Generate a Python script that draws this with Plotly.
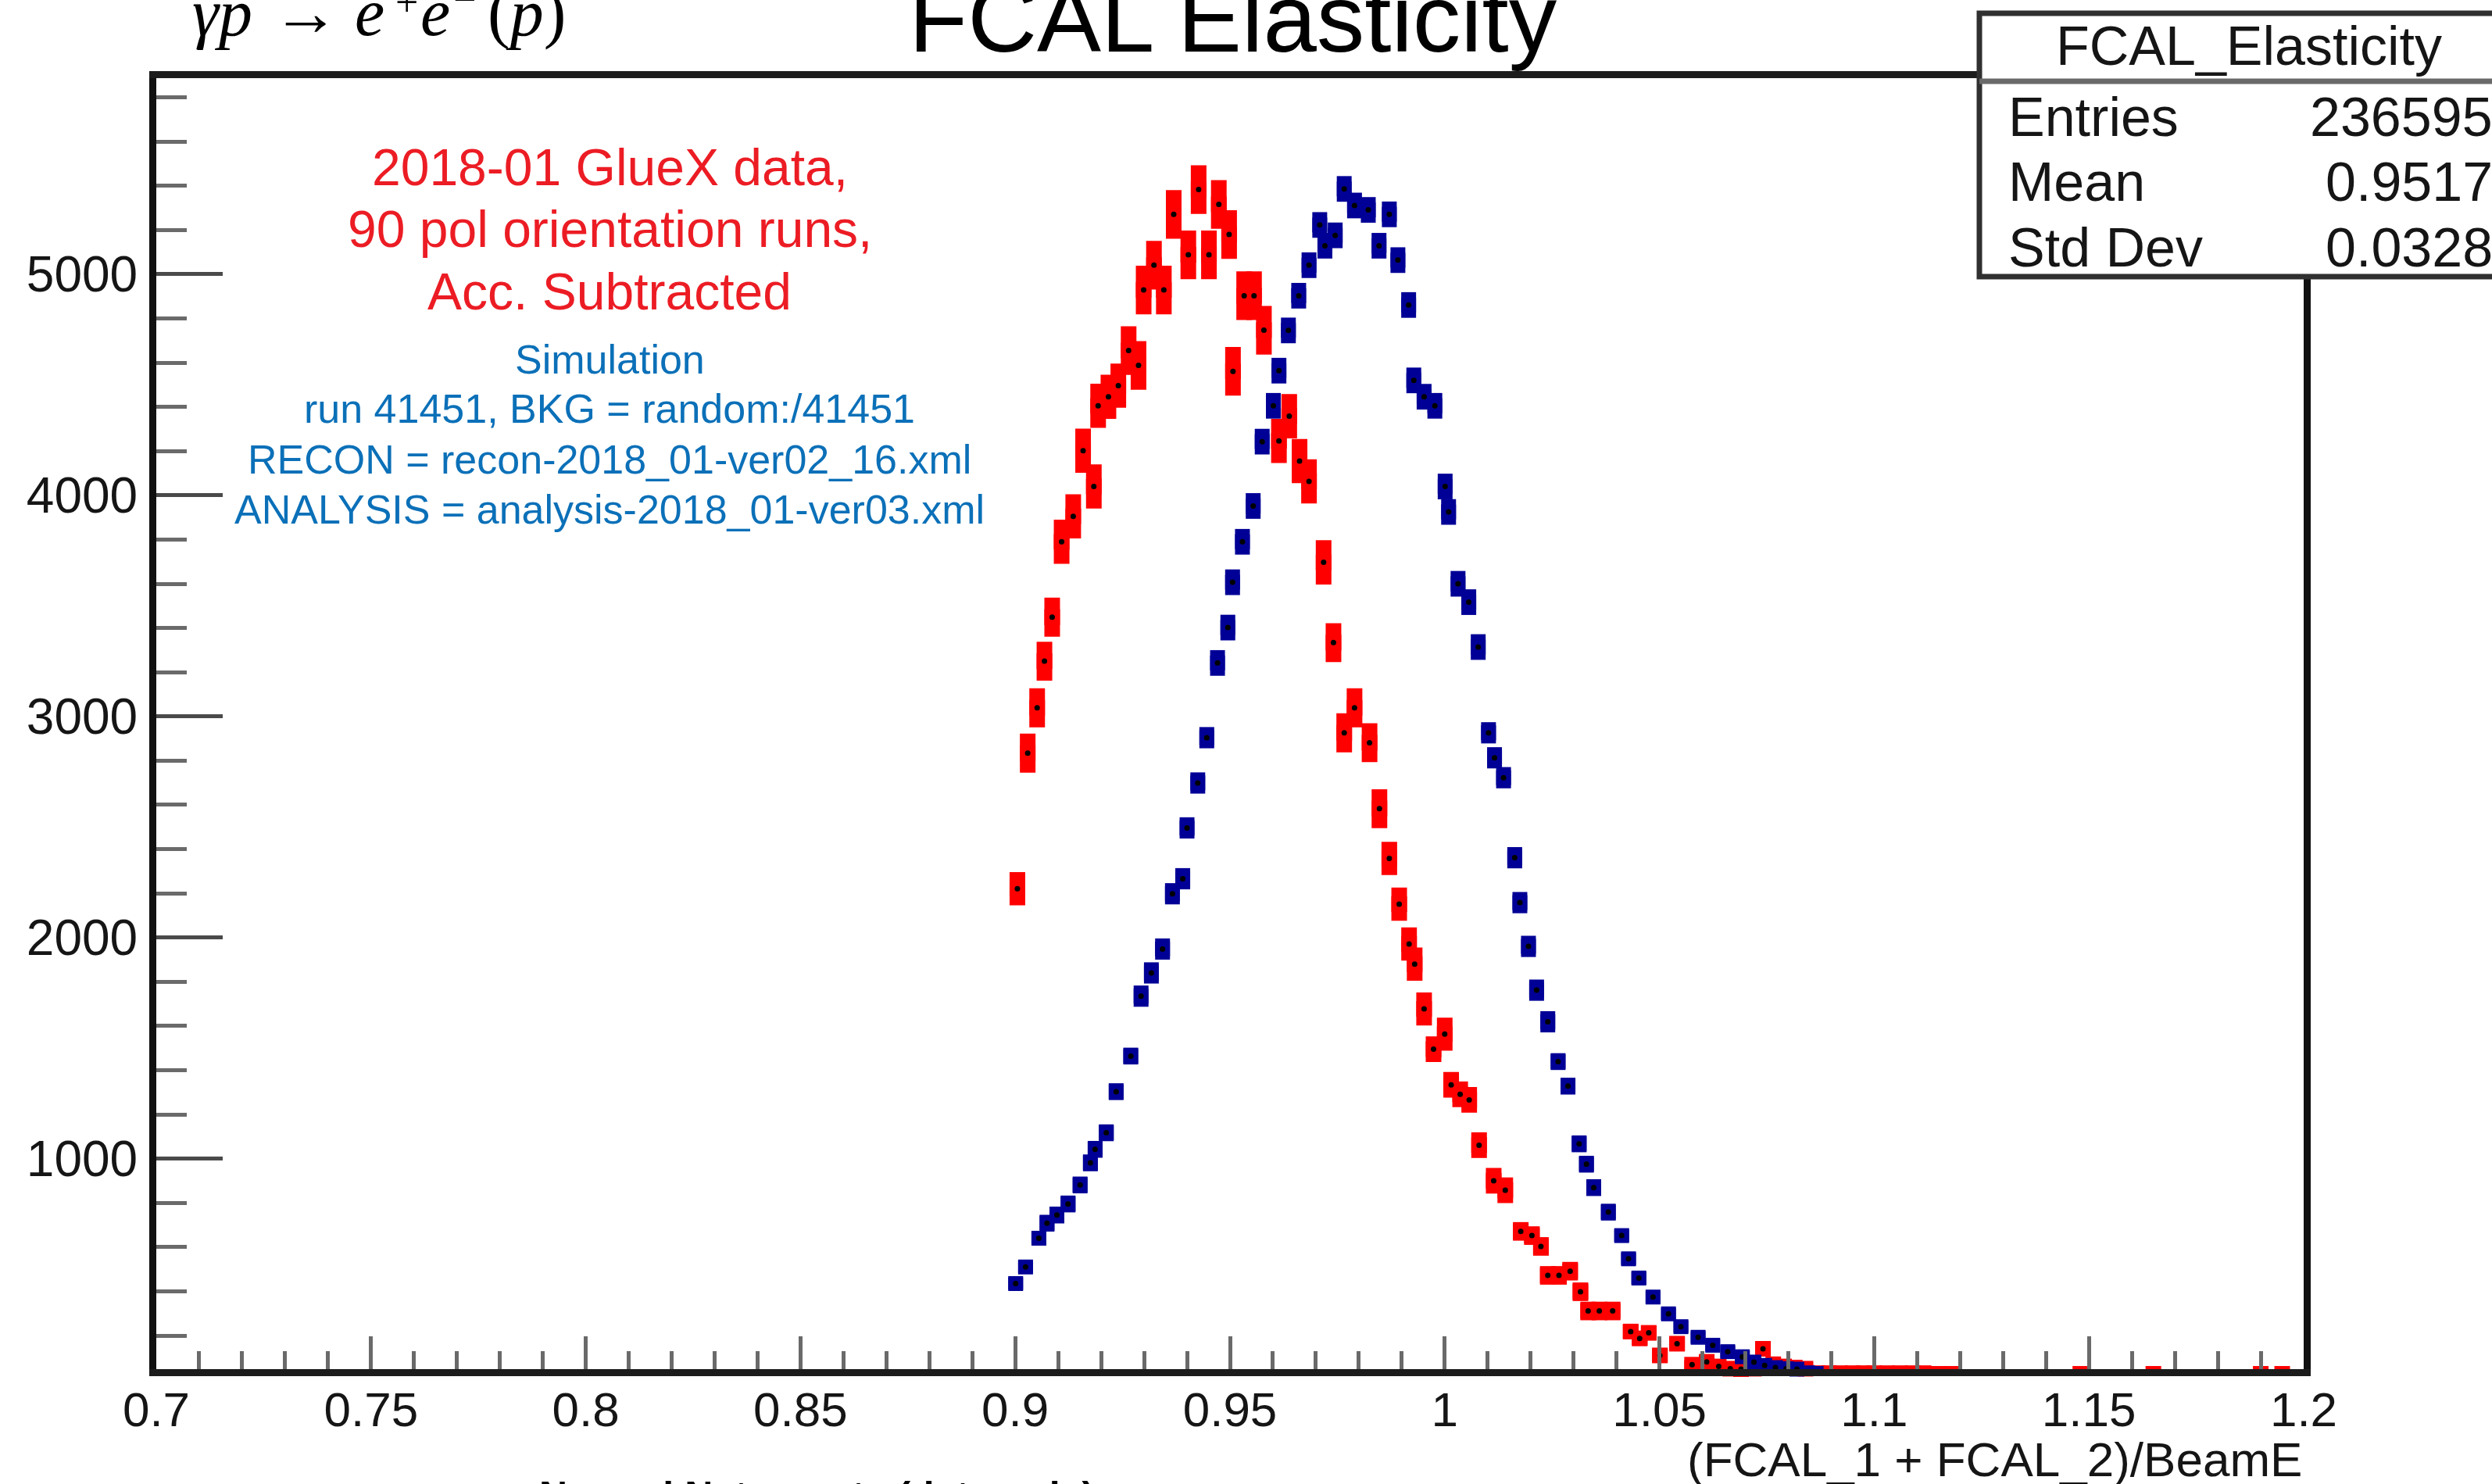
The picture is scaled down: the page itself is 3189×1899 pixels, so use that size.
import plotly.graph_objects as go

# ---------------- data ----------------
x_tick_vals = [0.7, 0.75, 0.8, 0.85, 0.9, 0.95, 1.0, 1.05, 1.1, 1.15, 1.2]
x_tick_text = ["0.7", "0.75", "0.8", "0.85", "0.9", "0.95", "1", "1.05", "1.1", "1.15", "1.2"]
y_tick_vals = [1000, 2000, 3000, 4000, 5000]
y_tick_text = ["1000", "2000", "3000", "4000", "5000"]

# 2018-01 data (red)
data_x = [0.9005, 0.9029, 0.9051, 0.9068, 0.9086, 0.9108, 0.9135, 0.9158, 0.9183, 0.9193,
          0.9217, 0.9240, 0.9264, 0.9287, 0.9299, 0.9323, 0.9346, 0.9369, 0.9403, 0.9427,
          0.9451, 0.9474, 0.9498, 0.9507, 0.9533, 0.9556, 0.9579, 0.9614, 0.9638, 0.9662,
          0.9684, 0.9718, 0.9741, 0.9766, 0.9790, 0.9825, 0.9848, 0.9871, 0.9894, 0.9917,
          0.9930, 0.9952, 0.9974, 1.0000, 1.0015, 1.0036, 1.0057, 1.0080, 1.0114, 1.0141,
          1.0177, 1.0203, 1.0224, 1.0240, 1.0266, 1.0292, 1.0316, 1.0334, 1.0360, 1.0391,
          1.0433, 1.0454, 1.0475, 1.0501, 1.0541, 1.0576, 1.0610, 1.0638, 1.0665, 1.0690,
          1.0720, 1.0741, 1.0765, 1.0790, 1.0815, 1.0840, 1.0870, 1.0895, 1.0920, 1.0950,
          1.0975, 1.1000, 1.1030, 1.1060, 1.1090, 1.1115, 1.1150, 1.1180, 1.1480, 1.1650,
          1.1900, 1.1950]
data_y = [2221, 2834, 3039, 3250, 3449, 3790, 3905, 4202, 4040, 4405,
          4446, 4496, 4655, 4588, 4929, 5041, 4929, 5271, 5088, 5383,
          5088, 5316, 5180, 4561, 4903, 4903, 4747, 4246, 4358, 4155,
          4063, 3697, 3334, 2926, 3039, 2881, 2583, 2358, 2151, 1971,
          1880, 1677, 1495, 1563, 1334, 1291, 1266, 1061, 900, 857,
          671, 652, 603, 472, 472, 491, 398, 311, 311, 311,
          218, 187, 212, 110, 163, 68, 81, 60, 50, 48,
          50, 140, 70, 60, 55, 50, 45, 45, 45, 45,
          45, 45, 45, 45, 45, 45, 42, 42, 42, 42,
          42, 42]
data_err = [75, 88, 88, 88, 88, 100, 100, 100, 100, 100,
            100, 100, 110, 110, 110, 110, 110, 110, 110, 110,
            110, 110, 110, 110, 110, 110, 110, 100, 100, 100,
            100, 100, 88, 88, 88, 88, 88, 75, 75, 75,
            75, 75, 58, 75, 58, 58, 58, 58, 58, 58,
            42, 42, 42, 42, 42, 42, 42, 42, 42, 42,
            32, 32, 32, 32, 32, 20, 20, 20, 20, 20,
            20, 32, 20, 20, 20, 20, 20, 20, 20, 20,
            20, 20, 20, 20, 20, 20, 20, 20, 20, 20,
            20, 20]

# Simulation (blue)
sim_x = [0.9001, 0.9024, 0.9055, 0.9074, 0.9097, 0.9123, 0.9151, 0.9175, 0.9186, 0.9212,
         0.9235, 0.9269, 0.9293, 0.9317, 0.9343, 0.9366, 0.9390, 0.9400, 0.9425, 0.9446,
         0.9471, 0.9495, 0.9506, 0.9529, 0.9554, 0.9575, 0.9601, 0.9614, 0.9636, 0.9660,
         0.9684, 0.9709, 0.9721, 0.9745, 0.9766, 0.9790, 0.9822, 0.9847, 0.9871, 0.9891,
         0.9916, 0.9928, 0.9952, 0.9977, 1.0001, 1.0009, 1.0031, 1.0056, 1.0078, 1.0102,
         1.0116, 1.0137, 1.0163, 1.0175, 1.0195, 1.0214, 1.0240, 1.0264, 1.0287, 1.0313,
         1.0330, 1.0347, 1.0381, 1.0412, 1.0428, 1.0452, 1.0485, 1.0521, 1.0550, 1.0590,
         1.0624, 1.0659, 1.0693, 1.0720, 1.0745, 1.0770, 1.0795, 1.0820, 1.0845, 1.0865]
sim_y = [435, 510, 640, 708, 745, 795, 881, 981, 1042, 1117,
         1303, 1464, 1735, 1840, 1948, 2198, 2266, 2496, 2699, 2904,
         3242, 3402, 3607, 3790, 3952, 4243, 4405, 4564, 4746, 4903,
         5041, 5223, 5129, 5176, 5386, 5311, 5291, 5129, 5271, 5064,
         4861, 4520, 4446, 4405, 4040, 3925, 3600, 3517, 3314, 2926,
         2813, 2723, 2361, 2158, 1960, 1762, 1619, 1439, 1328, 1067,
         975, 869, 758, 652, 547, 460, 374, 298, 240, 192,
         156, 127, 104, 80, 65, 55, 50, 48, 45, 42]
sim_err = [28, 28, 28, 38, 38, 38, 38, 38, 38, 38,
           38, 38, 48, 48, 48, 48, 48, 48, 48, 48,
           58, 58, 58, 58, 58, 58, 58, 58, 58, 58,
           58, 58, 58, 58, 58, 58, 58, 58, 58, 58,
           58, 58, 58, 58, 58, 58, 58, 58, 58, 48,
           48, 48, 48, 48, 48, 48, 48, 38, 38, 38,
           38, 38, 38, 28, 28, 28, 28, 28, 28, 28,
           28, 28, 28, 20, 20, 20, 20, 20, 20, 20]

stats_labels = ["Entries", "Mean", "Std Dev"]
stats_values = ["236595", "0.9517", "0.0328"]

# ---------------- geometry helpers (pixel -> paper) ----------------
W, H = 3189, 1899
L, R, T, B = 200, 2948, 100, 1752


def xp(px):
    return (px - L) / (R - L)


def yp(py):
    return (B - py) / (B - T)


SANS = "Liberation Sans, Arial, Helvetica, sans-serif"
SERIF = "Liberation Serif, Times New Roman, serif"
RED = "#ff0000"
BLUE = "#000096"

fig = go.Figure()

fig.add_trace(go.Scatter(
    x=data_x, y=data_y, mode="markers", cliponaxis=False,
    marker=dict(symbol="square", size=20, color=RED, line=dict(width=0)),
    error_y=dict(type="data", array=data_err, visible=True, color=RED, thickness=20, width=0),
    hoverinfo="skip"))
fig.add_trace(go.Scatter(
    x=data_x, y=data_y, mode="markers", cliponaxis=False,
    marker=dict(symbol="circle", size=7, color="black", line=dict(width=0)),
    hoverinfo="skip"))
fig.add_trace(go.Scatter(
    x=sim_x, y=sim_y, mode="markers", cliponaxis=False,
    marker=dict(symbol="square", size=19, color=BLUE, line=dict(width=0)),
    error_y=dict(type="data", array=sim_err, visible=True, color=BLUE, thickness=19, width=0),
    hoverinfo="skip"))
fig.add_trace(go.Scatter(
    x=sim_x, y=sim_y, mode="markers", cliponaxis=False,
    marker=dict(symbol="circle", size=7, color="black", line=dict(width=0)),
    hoverinfo="skip"))

TICKC = "#6a6a6a"
fig.update_xaxes(
    range=[0.7, 1.2], tickmode="array", tickvals=x_tick_vals, ticktext=x_tick_text,
    ticks="inside", ticklen=42, tickwidth=5, tickcolor=TICKC,
    minor=dict(tick0=0.7, dtick=0.01, ticks="inside", ticklen=23, tickwidth=5,
               tickcolor=TICKC, showgrid=False),
    showline=True, linecolor="#1c1c1c", linewidth=9, mirror=True,
    showgrid=False, zeroline=False,
    tickfont=dict(family=SANS, size=62, color="#151515"), ticklabelstandoff=-10)
fig.update_yaxes(
    range=[48, 5887], tickmode="array", tickvals=y_tick_vals, ticktext=y_tick_text,
    ticks="inside", ticklen=85, tickwidth=5, tickcolor="#4a4a4a",
    minor=dict(tick0=0, dtick=200, ticks="inside", ticklen=39, tickwidth=5,
               tickcolor=TICKC, showgrid=False),
    showline=True, linecolor="#111111", linewidth=9, mirror=True,
    showgrid=False, zeroline=False,
    tickfont=dict(family=SANS, size=64, color="#151515"), ticklabelstandoff=2)

ann = []


def add_text(text, x_px, y_bottom_px, size, color="#000000", family=SANS, xanchor="center"):
    ann.append(dict(text=text, x=xp(x_px), y=yp(y_bottom_px), xref="paper", yref="paper",
                    xanchor=xanchor, yanchor="bottom", showarrow=False,
                    font=dict(family=family, size=size, color=color)))


# title
add_text("FCAL Elasticity", 1578, 94, 123)

# reaction  γp → e+e−(p), placed piece by piece
EQ = 86
add_text("<i>γp</i>", 244, 66, EQ, family=SERIF, xanchor="left")
add_text("→", 346, 66, EQ, family=SERIF, xanchor="left")
add_text("<i>e</i>", 452, 66, EQ, family=SERIF, xanchor="left")
add_text("+", 504, 33, 52, family=SERIF, xanchor="left")
add_text("<i>e</i>", 536, 66, EQ, family=SERIF, xanchor="left")
add_text("−", 578, 30, 52, family=SERIF, xanchor="left")
add_text("(<i>p</i>)", 622, 66, EQ, family=SERIF, xanchor="left")

# red data label
RED_TXT = "#ec1c24"
for line, yb in zip(["2018-01 GlueX data,", "90 pol orientation runs,", "Acc. Subtracted"],
                    [253, 332, 412]):
    add_text(line, 780, yb, 66, RED_TXT)

# blue simulation label
BLUE_TXT = "#0b70b8"
for line, yb in zip(["Simulation", "run 41451, BKG = random:/41451",
                     "RECON = recon-2018_01-ver02_16.xml",
                     "ANALYSIS = analysis-2018_01-ver03.xml"],
                    [491, 554, 619, 683]):
    add_text(line, 780, yb, 52, BLUE_TXT)

# stats box text
add_text("FCAL_Elasticity", 2878, 100, 70, "#151515")
for lab, val, yb in zip(stats_labels, stats_values, [191, 274, 358]):
    add_text(lab, 2568, yb, 70, "#151515", xanchor="left")
    add_text(val, 3192, yb, 70, "#151515", xanchor="right")

# axis title
add_text("(FCAL_1 + FCAL_2)/BeamE", 2948, 1904, 62, "#151515", xanchor="right")

# text cut at the bottom edge of the picture
add_text("<b>Normal Net counts (data only)</b>", 1045, 1944, 50, "#000000")

shapes = [
    dict(type="rect", xref="paper", yref="paper", x0=xp(2533), x1=xp(3260), y0=yp(354), y1=yp(17),
         fillcolor="white", line=dict(color="#303030", width=7), layer="above"),
    dict(type="line", xref="paper", yref="paper", x0=xp(2533), x1=xp(3260), y0=yp(104), y1=yp(104),
         line=dict(color="#6a6a6a", width=7), layer="above"),
]

fig.update_layout(
    width=W, height=H, autosize=False,
    margin=dict(l=L, r=W - R, t=T, b=H - B, pad=0),
    paper_bgcolor="white", plot_bgcolor="white",
    showlegend=False, annotations=ann, shapes=shapes,
)

fig.write_html("out.html")
